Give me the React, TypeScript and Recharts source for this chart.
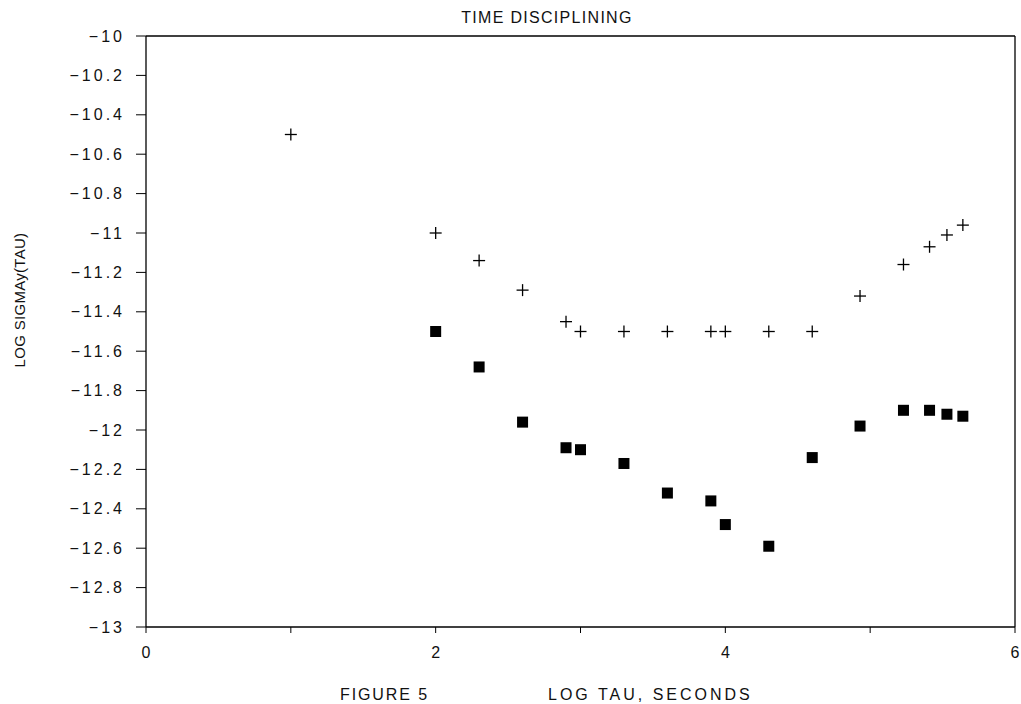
import React from 'react';
import { ScatterChart, Scatter, XAxis, YAxis, ReferenceLine } from 'recharts';

// log tau (seconds) vs log sigma_y(tau), two point sets
const plusTau = [1.0, 2.0, 2.3, 2.6, 2.9, 3.0, 3.3, 3.6, 3.9, 4.0, 4.3, 4.6, 4.93, 5.23, 5.41, 5.53, 5.64];
const plusSigma = [-10.5, -11.0, -11.14, -11.29, -11.45, -11.5, -11.5, -11.5, -11.5, -11.5, -11.5, -11.5, -11.32, -11.16, -11.07, -11.01, -10.96];
const squareTau = [2.0, 2.3, 2.6, 2.9, 3.0, 3.3, 3.6, 3.9, 4.0, 4.3, 4.6, 4.93, 5.23, 5.41, 5.53, 5.64];
const squareSigma = [-11.5, -11.68, -11.96, -12.09, -12.1, -12.17, -12.32, -12.36, -12.48, -12.59, -12.14, -11.98, -11.9, -11.9, -11.92, -11.93];

const xTicks = [0, 1, 2, 3, 4, 5, 6];
const xTickLabels = ['0', '', '2', '', '4', '', '6'];
const yTicks = [-13, -12.8, -12.6, -12.4, -12.2, -12, -11.8, -11.6, -11.4, -11.2, -11, -10.8, -10.6, -10.4, -10.2, -10];

const title = 'TIME DISCIPLINING';
const xTitle = 'LOG TAU, SECONDS';
const figureLabel = 'FIGURE 5';
const yTitle = 'LOG SIGMAy(TAU)';

const plusData = plusTau.map((x, i) => ({ x, y: plusSigma[i] }));
const squareData = squareTau.map((x, i) => ({ x, y: squareSigma[i] }));

const FONT = '"Liberation Sans", Arial, sans-serif';

const PlusMark = (props: any) => {
  const { cx, cy } = props;
  return (
    <g>
      <line x1={cx - 6} x2={cx + 6} y1={cy} y2={cy} stroke="#000" strokeWidth={1.3} />
      <line x1={cx} x2={cx} y1={cy - 6} y2={cy + 6} stroke="#000" strokeWidth={1.3} />
    </g>
  );
};

const SquareMark = (props: any) => {
  const { cx, cy } = props;
  return <rect x={cx - 5.5} y={cy - 5.5} width={11} height={11} fill="#000" />;
};

const formatY = (v: number) => {
  const s = Number.isInteger(v) ? String(Math.abs(v)) : Math.abs(v).toFixed(1);
  return '\u2212' + s;
};

const textStyle: React.CSSProperties = {
  position: 'absolute',
  fontFamily: FONT,
  fontSize: 16,
  lineHeight: '16px',
  color: '#111',
  whiteSpace: 'nowrap',
};

export default function App() {
  return (
    <div style={{ position: 'absolute', left: 0, top: 0, width: 1021, height: 704, background: '#fff' }}>
      <ScatterChart
        width={1021}
        height={704}
        margin={{ top: 36, right: 6, left: 0, bottom: 47 }}
      >
        <XAxis
          type="number"
          dataKey="x"
          domain={[0, 6]}
          ticks={xTicks}
          tickFormatter={(v: number) => xTickLabels[xTicks.indexOf(v)] ?? ''}
          height={30}
          tickSize={6}
          tickMargin={14}
          axisLine={{ stroke: '#000', strokeWidth: 1.3 }}
          tickLine={{ stroke: '#000' }}
          tick={{ fill: '#111', fontSize: 16, fontFamily: FONT }}
          allowDataOverflow
        />
        <YAxis
          type="number"
          dataKey="y"
          domain={[-13, -10]}
          ticks={yTicks}
          tickFormatter={formatY}
          width={146}
          tickSize={10}
          tickMargin={11}
          interval={0}
          axisLine={{ stroke: '#000', strokeWidth: 1.3 }}
          tickLine={{ stroke: '#000' }}
          tick={{ fill: '#111', fontSize: 16, fontFamily: FONT, letterSpacing: 3 }}
          allowDataOverflow
        />
        <ReferenceLine y={-10} stroke="#000" strokeWidth={1.3} />
        <ReferenceLine x={6} stroke="#000" strokeWidth={1.3} />
        <Scatter data={plusData} shape={<PlusMark />} isAnimationActive={false} />
        <Scatter data={squareData} shape={<SquareMark />} isAnimationActive={false} />
      </ScatterChart>
      <div style={{ ...textStyle, left: 547, top: 10, letterSpacing: 1.3, transform: 'translateX(-50%)' }}>{title}</div>
      <div style={{ ...textStyle, left: 340, top: 687, letterSpacing: 1.9 }}>{figureLabel}</div>
      <div style={{ ...textStyle, left: 548, top: 687, letterSpacing: 3 }}>{xTitle}</div>
      <div
        style={{
          ...textStyle,
          fontSize: 15,
          left: 20,
          top: 300,
          letterSpacing: 0.3,
          transform: 'translate(-50%, -50%) rotate(-90deg)',
        }}
      >
        {yTitle}
      </div>
    </div>
  );
}
